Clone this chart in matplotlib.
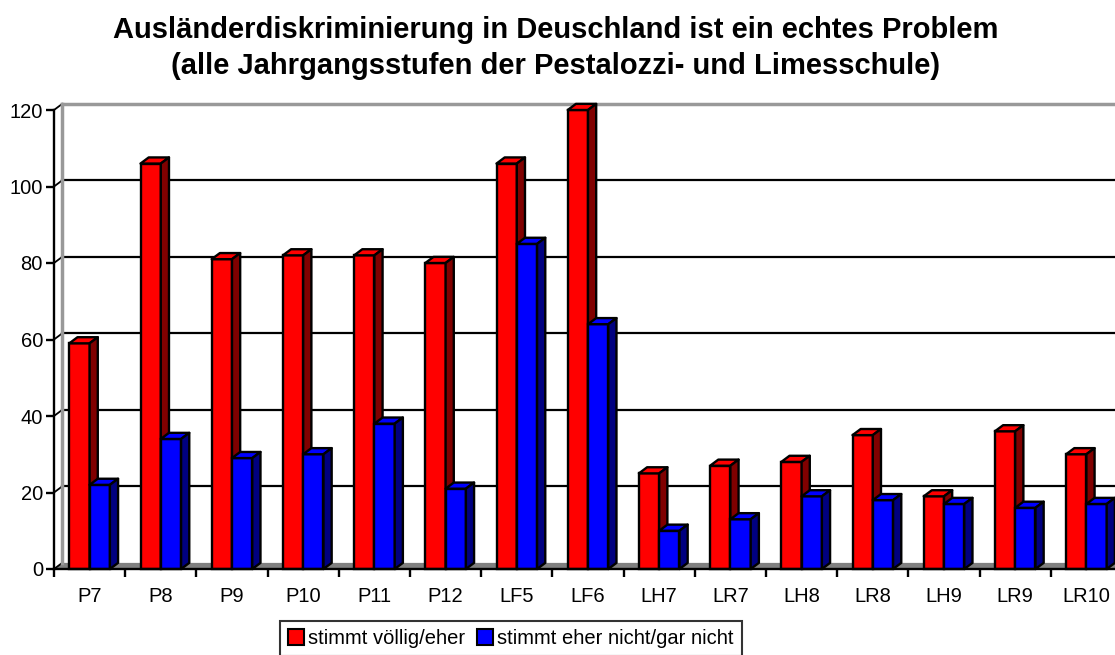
import numpy as np
import matplotlib
matplotlib.use("Agg")
import matplotlib.pyplot as plt
from matplotlib.patches import Polygon, Patch

plt.rcParams['font.family'] = ['Liberation Sans', 'DejaVu Sans']

# data
categories = ["P7", "P8", "P9", "P10", "P11", "P12", "LF5", "LF6",
              "LH7", "LR7", "LH8", "LR8", "LH9", "LR9", "LR10"]
agree = [59, 106, 81, 82, 82, 80, 106, 120, 25, 27, 28, 35, 19, 36, 30]
disagree = [22, 34, 29, 30, 38, 21, 85, 64, 10, 13, 19, 18, 17, 16, 17]
yticks = [0, 20, 40, 60, 80, 100, 120]
legend_labels = ["stimmt völlig/eher", "stimmt eher nicht/gar nicht"]

W, H = 1115, 655
fig = plt.figure(figsize=(W / 100, H / 100), dpi=100)
# front plane of the 3d box: x 54..1122 px, y 569..110 px
ax = fig.add_axes([54 / W, (H - 569) / H, 1068 / W, 459 / H])
ax.set_xlim(-0.5, len(categories) - 0.5)
ax.set_ylim(0, 120)

DX = 0.115  # depth offset in category units
DY = 1.6    # depth offset in data units
BW = 0.285
LW = 1.7

def bar3d(x0, h, front, top, side, z):
    ax.bar(x0, h, width=BW, align='edge', color=front, edgecolor='black',
           linewidth=LW, zorder=z, clip_on=False)
    ax.add_patch(Polygon([(x0, h), (x0 + DX, h + DY), (x0 + BW + DX, h + DY), (x0 + BW, h)],
                         closed=True, facecolor=top, edgecolor='black', lw=LW,
                         zorder=z, clip_on=False, joinstyle='round'))
    ax.add_patch(Polygon([(x0 + BW, 0), (x0 + BW, h), (x0 + BW + DX, h + DY), (x0 + BW + DX, DY)],
                         closed=True, facecolor=side, edgecolor='black', lw=LW,
                         zorder=z, clip_on=False, joinstyle='round'))

x = np.arange(len(categories))
xmax = len(categories) - 0.5

# floor
ax.add_patch(Polygon([(-0.5, 0), (-0.5 + DX, DY), (xmax + DX, DY), (xmax, 0)],
                     closed=True, facecolor='#808080', edgecolor='none', zorder=1, clip_on=False))
# back wall: gridlines
for v in yticks[1:-1]:
    ax.plot([-0.5 + DX, xmax + DX], [v + DY, v + DY], color='black', lw=1.6, zorder=1, clip_on=False)
    ax.plot([-0.5, -0.5 + DX], [v, v + DY], color='black', lw=1.3, zorder=1, clip_on=False)
ax.plot([-0.5, -0.5 + DX], [0, DY], color='black', lw=1.3, zorder=1, clip_on=False)
ax.plot([-0.5, -0.5 + DX], [120, 120 + DY], color='black', lw=1.3, zorder=1, clip_on=False)
ax.plot([-0.5 + DX, xmax + DX], [120 + DY, 120 + DY], color='#999999', lw=2.5, zorder=1, clip_on=False)
ax.plot([-0.5 + DX, -0.5 + DX], [DY, 120 + DY], color='#999999', lw=2.5, zorder=1, clip_on=False)

for i in x:
    bar3d(i - BW, agree[i], '#ff0000', '#ff0000', '#800000', 3)
    bar3d(i, disagree[i], '#0000ff', '#0000ff', '#000080', 4)

for s in ['top', 'right']:
    ax.spines[s].set_visible(False)
for s in ['left', 'bottom']:
    ax.spines[s].set_linewidth(1.7)
    ax.spines[s].set_zorder(5)

ax.set_yticks(yticks)
ax.tick_params(axis='y', length=6, width=1.7, labelsize=14.5, pad=2)
ax.set_xticks(x)
ax.set_xticklabels(categories)
ax.set_xticks(np.arange(-0.5, len(categories) + 0.5, 1), minor=True)
ax.tick_params(axis='x', which='major', length=0, labelsize=14.5, pad=13)
ax.tick_params(axis='x', which='minor', length=6, width=1.7)
ax.set_facecolor('none')

fig.text(556 / W, 1 - 38 / H, "Ausländerdiskriminierung in Deuschland ist ein echtes Problem",
         ha='center', va='baseline', fontsize=21, fontweight='bold')
fig.text(556 / W, 1 - 74 / H, "(alle Jahrgangsstufen der Pestalozzi- und Limesschule)",
         ha='center', va='baseline', fontsize=21, fontweight='bold')

handles = [Patch(facecolor='#ff0000', edgecolor='black', lw=1.5),
           Patch(facecolor='#0000ff', edgecolor='black', lw=1.5)]
leg = fig.legend(handles, legend_labels, loc='upper center', bbox_to_anchor=(511 / W, 1 - 621 / H),
                 ncol=2, fontsize=14.5, frameon=True, fancybox=False, borderaxespad=0,
                 handlelength=0.8, handleheight=0.8, handletextpad=0.2, columnspacing=0.6,
                 borderpad=0.4)
leg.get_frame().set_edgecolor('black')
leg.get_frame().set_linewidth(1.5)

fig.savefig("out.png", dpi=100)
